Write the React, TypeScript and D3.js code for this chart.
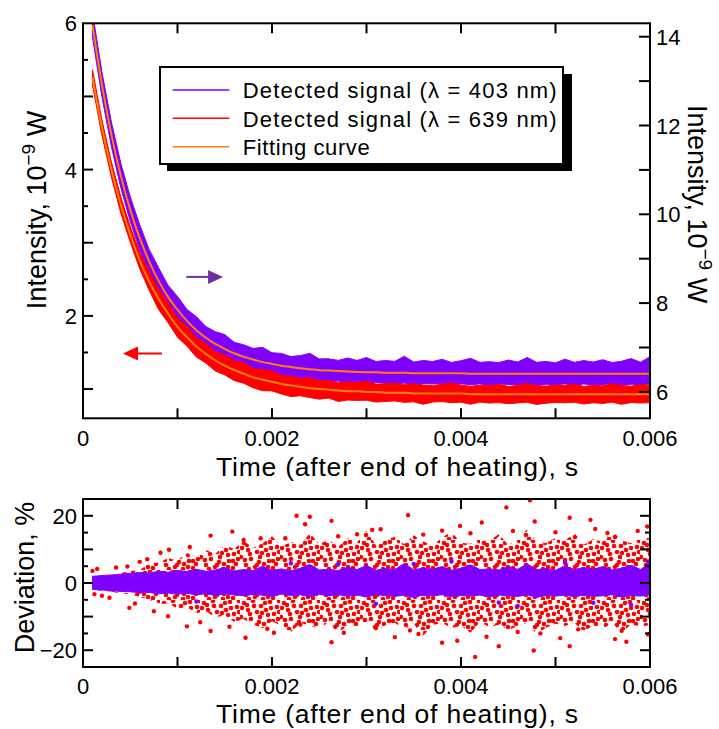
import React from "react";
import * as d3 from "d3";

// ---------- data ----------
const timeS = [
  0.0001, 0.0002, 0.0003, 0.0004, 0.0005, 0.0006, 0.0007, 0.0008, 0.0009, 0.001,
  0.0011, 0.0012, 0.0013, 0.0014, 0.0015, 0.0016, 0.0017, 0.0018, 0.0019, 0.002,
  0.0021, 0.0022, 0.0023, 0.0024, 0.0025, 0.0026, 0.0027, 0.0028, 0.0029, 0.003,
  0.0031, 0.0032, 0.0033, 0.0034, 0.0035, 0.0036, 0.0037, 0.0038, 0.0039, 0.004,
  0.0041, 0.0042, 0.0043, 0.0044, 0.0045, 0.0046, 0.0047, 0.0048, 0.0049, 0.005,
  0.0051, 0.0052, 0.0053, 0.0054, 0.0055, 0.0056, 0.0057, 0.0058, 0.0059, 0.006,
];
// fitting curve, 403 nm (right axis, 1e-9 W)
const fit403 = [
  14.27, 12.92, 11.8, 10.87, 10.1, 9.47, 8.94, 8.5, 8.14, 7.85,
  7.6, 7.39, 7.22, 7.08, 6.97, 6.87, 6.79, 6.73, 6.67, 6.63,
  6.59, 6.56, 6.53, 6.51, 6.49, 6.48, 6.47, 6.46, 6.45, 6.44,
  6.44, 6.43, 6.43, 6.43, 6.42, 6.42, 6.42, 6.42, 6.42, 6.42,
  6.41, 6.41, 6.41, 6.41, 6.41, 6.41, 6.41, 6.41, 6.41, 6.41,
  6.41, 6.41, 6.41, 6.41, 6.41, 6.41, 6.41, 6.41, 6.41, 6.41,
];
// fitting curve, 639 nm (left axis, 1e-9 W)
const fit639 = [
  5.26, 4.58, 4.0, 3.52, 3.11, 2.76, 2.47, 2.23, 2.03, 1.85,
  1.71, 1.58, 1.48, 1.39, 1.32, 1.26, 1.21, 1.16, 1.13, 1.1,
  1.07, 1.05, 1.03, 1.01, 1.0, 0.99, 0.98, 0.97, 0.97, 0.96,
  0.96, 0.95, 0.95, 0.95, 0.94, 0.94, 0.94, 0.94, 0.94, 0.94,
  0.93, 0.93, 0.93, 0.93, 0.93, 0.93, 0.93, 0.93, 0.93, 0.93,
  0.93, 0.93, 0.93, 0.93, 0.93, 0.93, 0.93, 0.93, 0.93, 0.93,
];
// noise envelope of the detected signals, % above / below the fit
const up403 = [
  2.0, 2.2, 2.4, 2.6, 2.9, 3.1, 3.0, 3.5, 3.2, 3.8, 3.4, 4.1, 3.5, 3.9, 4.6, 3.6, 4.0, 3.7, 5.0, 3.8,
  4.2, 3.6, 4.4, 5.5, 3.9, 4.1, 3.7, 4.7, 4.0, 5.2, 3.8, 4.3, 4.0, 5.8, 3.9, 4.5, 4.1, 4.9, 3.8, 4.4,
  5.4, 4.0, 4.2, 3.9, 4.8, 4.1, 5.7, 4.0, 4.3, 3.8, 5.1, 4.0, 4.6, 4.1, 4.9, 3.9, 4.4, 5.3, 4.0, 6.0,
];
const lo403 = [
  1.9, 2.1, 2.3, 2.5, 2.6, 2.9, 2.8, 3.2, 3.0, 3.3, 3.1, 3.5, 3.2, 3.7, 3.3, 3.5, 3.8, 3.4, 3.6, 4.0,
  3.3, 3.7, 3.5, 4.1, 3.4, 3.8, 3.5, 3.9, 3.6, 4.2, 3.5, 3.7, 4.0, 3.6, 4.3, 3.6, 3.8, 3.5, 4.1, 3.7,
  3.9, 3.6, 4.2, 3.6, 3.8, 4.0, 3.5, 4.3, 3.7, 3.9, 3.6, 4.1, 3.6, 4.0, 3.8, 3.5, 4.2, 3.7, 3.9, 3.6,
];
const up639 = [
  2.0, 2.2, 2.6, 3.0, 3.6, 3.9, 5.8, 6.1, 7.4, 6.8, 8.9, 7.6, 9.8, 8.7, 11.2, 10.1, 12.6, 10.4, 11.8, 13.9,
  10.9, 12.2, 11.4, 14.8, 11.6, 12.9, 10.8, 13.3, 12.1, 15.6, 11.2, 12.7, 13.8, 11.5, 14.2, 12.4, 11.1, 13.6, 15.2, 12.0,
  11.7, 13.1, 12.5, 14.6, 11.3, 12.8, 16.1, 12.2, 11.9, 13.4, 12.6, 14.9, 11.4, 13.0, 12.3, 15.4, 12.7, 11.8, 14.1, 13.2,
];
const lo639 = [
  1.9, 2.4, 2.5, 3.2, 3.3, 4.2, 4.9, 6.4, 6.0, 7.7, 7.2, 9.0, 8.4, 10.3, 9.6, 11.5, 10.8, 12.3, 13.5, 11.4,
  12.8, 14.6, 11.9, 12.6, 13.8, 11.5, 15.2, 12.4, 12.9, 11.7, 14.3, 12.6, 11.8, 13.9, 12.2, 15.8, 12.5, 11.9, 13.4, 12.7,
  14.8, 11.6, 13.1, 12.4, 14.0, 12.9, 11.8, 15.1, 13.3, 12.1, 12.8, 11.9, 14.4, 12.6, 13.7, 11.8, 14.9, 12.3, 13.0, 12.5,
];
// scattered deviation points outside the dense band (%)
const redOutT = [
  0.00047, 0.00068, 0.00091, 0.00113, 0.00135, 0.00158, 0.00188, 0.00214, 0.00226, 0.0024,
  0.00235, 0.00263, 0.00049, 0.0009, 0.00124, 0.00135, 0.00172, 0.00202, 0.00195, 0.00263,
  0.00276, 0.0023, 0.00473, 0.00448, 0.00344, 0.00422, 0.00399, 0.00515, 0.00537, 0.00478,
  0.00306, 0.00315, 0.0038, 0.00597, 0.00587, 0.00542, 0.00455, 0.00415, 0.00477, 0.00515,
  0.0038, 0.00396, 0.0033, 0.00427, 0.0044, 0.00575, 0.00563, 0.00598, 0.00484, 0.00524,
  0.00346, 0.0029, 0.00355, 0.00505, 0.00555, 0.0046, 0.0017, 0.0011, 0.00155, 0.0041,
  0.0036, 0.005, 0.0027, 0.0031, 0.0057, 0.00075, 0.00082, 0.0006, 0.00055, 0.00035,
  0.0002, 0.00015, 0.00028, 0.0001, 0.00012,
];
const redOutD = [
  4.9, 7.1, 9.9, 10.7, 14.1, 15.3, 13.3, 13.3, 20.0, 19.7,
  17.5, 18.5, -7.4, -9.9, -11.7, -14.3, -16.3, -14.8, -13.6, -17.6,
  -14.8, -12.4, 24.6, 22.5, 20.2, 18.0, 17.0, 19.4, 18.8, 18.3,
  15.8, 16.0, 15.6, 16.8, 15.5, 16.1, 15.5, -22.0, -20.1, -18.8,
  -17.8, -17.2, -16.1, -16.0, -18.8, -17.5, -16.7, -15.3, -15.0, -13.8,
  -14.1, 14.5, -15.2, -16.4, 14.9, -14.6, 12.8, -12.9, -13.0, 14.8,
  14.4, 15.1, 13.9, -13.4, -14.2, -8.4, 9.0, 6.3, -6.1, 4.6,
  -3.8, 4.2, -4.4, 3.6, -3.3,
];
const purOutT = [0.0012, 0.0022, 0.0031, 0.0039, 0.0044, 0.0051, 0.0058, 0.00598, 0.0046, 0.0027, 0.0035, 0.0054];
const purOutD = [-5.5, 5.9, -6.2, 6.4, -5.8, 6.1, -6.5, 6.4, -6.8, 5.6, 5.7, -5.9];

const xTickVals = [0, 0.002, 0.004, 0.006];
const xTickLabels = ["0", "0.002", "0.004", "0.006"];
const xAllTicks = [0.001, 0.002, 0.003, 0.004, 0.005];
const leftTickVals = [2, 4, 6];
const leftAllTicks = [1, 1.5, 2, 2.5, 3, 3.5, 4, 4.5, 5, 5.5];
const rightTickVals = [6, 8, 10, 12, 14];
const rightAllTicks = [6, 7, 8, 9, 10, 11, 12, 13, 14];
const devTickVals = [20, 0, -20];
const devTickLabels = ["20", "0", "\u221220"];
const devAllTicks = [-20, -15, -10, -5, 0, 5, 10, 15, 20];
const legendLabels = [
  "Detected signal (\u03bb = 403 nm)",
  "Detected signal (\u03bb = 639 nm)",
  "Fitting curve",
];

// ---------- styling / layout ----------
const W = 719;
const H = 729;
const L = 83;
const R = 650;
const T1 = 23.3;
const B1 = 418.3;
const T2 = 499;
const B2 = 667;
const FONT = "'Liberation Sans', Arial, Helvetica, sans-serif";
const PURPLE = "#8000ff";
const RED = "#ff0000";
const ORANGE = "#ff8000";
const ARROW_PURPLE = "#7030a0";
const SPECKLES = [
  [4, 3], [13, 1], [21, 6], [30, 2], [37, 7], [8, 10], [17, 12], [26, 10], [34, 14], [1, 17],
  [11, 19], [20, 17], [29, 21], [38, 19], [6, 25], [15, 27], [24, 24], [33, 28], [2, 8], [9, 29],
  [19, 22], [28, 15], [36, 24], [14, 6], [23, 29], [31, 8], [5, 20], [39, 1], [25, 3], [10, 14],
  [33, 21], [17, 25], [28, 27], [39, 12], [22, 13], [7, 5],
];

export default function App() {
  const x = d3.scaleLinear().domain([0, 0.006]).range([L, R]);
  const yL = d3.scaleLinear().domain([0.6, 6]).range([B1, T1]);
  const yR = d3.scaleLinear().domain([5.405, 14.302]).range([B1, T1]);
  const yD = d3.scaleLinear().domain([-25, 25]).range([B2, T2]);

  const idx = timeS.map((_, i) => i);

  const band403 = d3
    .area<number>()
    .x((i) => x(timeS[i]))
    .y0((i) => yR(fit403[i] * (1 - lo403[i] / 100)))
    .y1((i) => yR(fit403[i] * (1 + up403[i] / 100)));
  const band639 = d3
    .area<number>()
    .x((i) => x(timeS[i]))
    .y0((i) => yL(fit639[i] * (1 - lo639[i] / 100)))
    .y1((i) => yL(fit639[i] * (1 + up639[i] / 100)));
  const fitLine403 = d3
    .line<number>()
    .x((i) => x(timeS[i]))
    .y((i) => yR(fit403[i]))
    .curve(d3.curveMonotoneX);
  const fitLine639 = d3
    .line<number>()
    .x((i) => x(timeS[i]))
    .y((i) => yL(fit639[i]))
    .curve(d3.curveMonotoneX);

  const devBand403 = d3
    .area<number>()
    .x((i) => x(timeS[i]))
    .y0((i) => yD(-lo403[i]))
    .y1((i) => yD(up403[i]));
  const devBand639 = d3
    .area<number>()
    .x((i) => x(timeS[i]))
    .y0((i) => yD(-lo639[i]))
    .y1((i) => yD(up639[i]));

  // arrows (data units)
  const pArrowY = yR(8.59);
  const pTail = x(0.001093);
  const pTip = x(0.001482);
  const rArrowY = yL(1.486);
  const rTip = x(0.000423);
  const rTail = x(0.000835);

  const tickText = { fontFamily: FONT, fontSize: 22, fill: "#000" } as const;
  const titleText = { fontFamily: FONT, fontSize: 27, fill: "#000" } as const;
  const xTitleText = { fontFamily: FONT, fontSize: 26.5, fill: "#000" } as const;

  return (
    <svg
      width={W}
      height={H}
      viewBox={`0 0 ${W} ${H}`}
      style={{ position: "absolute", left: 0, top: 0, background: "#fff" }}
    >
      <defs>
        <clipPath id="clipTop">
          <rect x={L} y={T1} width={R - L} height={B1 - T1} />
        </clipPath>
        <clipPath id="clipBot">
          <rect x={L} y={T2} width={R - L} height={B2 - T2} />
        </clipPath>
        <pattern id="speckle" width={40} height={30} patternUnits="userSpaceOnUse">
          {SPECKLES.map(([cx, cy], k) => (
            <circle key={k} cx={cx} cy={cy} r={2.3} fill={RED} />
          ))}
        </pattern>
      </defs>
      <rect x={0} y={0} width={W} height={H} fill="#fff" />

      {/* ================= TOP PANEL ================= */}
      <g clipPath="url(#clipTop)">
        <path d={band403(idx) || ""} fill={PURPLE} stroke={PURPLE} strokeWidth={1} />
        <path d={band639(idx) || ""} fill={RED} stroke={RED} strokeWidth={1} />
        <path d={fitLine403(idx) || ""} fill="none" stroke={ORANGE} strokeWidth={2} />
        <path d={fitLine639(idx) || ""} fill="none" stroke={ORANGE} strokeWidth={2} />
      </g>

      {/* arrows */}
      <line x1={pTail} x2={pTip - 14} y1={pArrowY} y2={pArrowY} stroke={ARROW_PURPLE} strokeWidth={2} />
      <polygon
        points={`${pTip - 15},${pArrowY - 7} ${pTip},${pArrowY} ${pTip - 15},${pArrowY + 7}`}
        fill={ARROW_PURPLE}
      />
      <line x1={rTip + 14} x2={rTail} y1={rArrowY} y2={rArrowY} stroke={RED} strokeWidth={2} />
      <polygon
        points={`${rTip + 15},${rArrowY - 7} ${rTip},${rArrowY} ${rTip + 15},${rArrowY + 7}`}
        fill={RED}
      />

      {/* frame & ticks */}
      <rect x={L} y={T1} width={R - L} height={B1 - T1} fill="none" stroke="#000" strokeWidth={2} />
      {xAllTicks.map((v) => (
        <g key={"xt" + v}>
          <line x1={x(v)} x2={x(v)} y1={B1} y2={B1 - 10} stroke="#000" strokeWidth={2} />
          <line x1={x(v)} x2={x(v)} y1={T1} y2={T1 + 10} stroke="#000" strokeWidth={2} />
        </g>
      ))}
      {leftAllTicks.map((v) => (
        <line
          key={"lt" + v}
          x1={L}
          x2={L + (Number.isInteger(v) ? 10 : 5)}
          y1={yL(v)}
          y2={yL(v)}
          stroke="#000"
          strokeWidth={2}
        />
      ))}
      {rightAllTicks.map((v) => (
        <line key={"rt" + v} x1={R - 11} x2={R} y1={yR(v)} y2={yR(v)} stroke="#000" strokeWidth={2} />
      ))}
      {leftTickVals.map((v) => (
        <text key={"ll" + v} x={77} y={yL(v) + 8} textAnchor="end" style={tickText}>
          {v}
        </text>
      ))}
      {rightTickVals.map((v) => (
        <text key={"rl" + v} x={656} y={yR(v) + 8} textAnchor="start" style={tickText}>
          {v}
        </text>
      ))}
      {xTickVals.map((v, i) => (
        <text key={"xl" + v} x={x(v)} y={446} textAnchor="middle" style={tickText}>
          {xTickLabels[i]}
        </text>
      ))}
      <text x={397} y={476} textAnchor="middle" style={xTitleText} textLength={362} lengthAdjust="spacing">
        Time (after end of heating), s
      </text>
      <text transform="translate(46,210) rotate(-90)" textAnchor="middle" style={titleText}>
        Intensity, 10
        <tspan dy={-11} fontSize={19}>{"\u22129"}</tspan>
        <tspan dy={11}> W</tspan>
      </text>
      <text transform="translate(688,204) rotate(90)" textAnchor="middle" style={titleText}>
        Intensity, 10
        <tspan dy={-11} fontSize={19}>{"\u22129"}</tspan>
        <tspan dy={11}> W</tspan>
      </text>

      {/* legend */}
      <rect x={167} y={74} width={405} height={97} fill="#000" />
      <rect x={160} y={67} width={403} height={97} fill="#fff" stroke="#000" strokeWidth={2} />
      {legendLabels.map((lab, i) => {
        const cy = 90 + i * 28.35;
        const col = [PURPLE, RED, ORANGE][i];
        return (
          <g key={lab}>
            <line x1={172.7} x2={229.3} y1={cy} y2={cy} stroke={col} strokeWidth={1.5} />
            <text
              x={242.7}
              y={cy + 8.3}
              style={{ fontFamily: FONT, fontSize: 22, fill: "#000" }}
              textLength={i < 2 ? 314 : 127}
              lengthAdjust="spacing"
            >
              {lab}
            </text>
          </g>
        );
      })}

      {/* ================= BOTTOM PANEL ================= */}
      <g clipPath="url(#clipBot)">
        <path d={devBand639(idx) || ""} fill="url(#speckle)" />
        {redOutT.map((t, i) => (
          <circle key={"ro" + i} cx={x(t)} cy={yD(redOutD[i])} r={2.2} fill={RED} />
        ))}
        <path d={devBand403(idx) || ""} fill={PURPLE} stroke={PURPLE} strokeWidth={1} />
        {purOutT.map((t, i) => (
          <circle key={"po" + i} cx={x(t)} cy={yD(purOutD[i])} r={2.2} fill={PURPLE} />
        ))}
      </g>
      <rect x={L} y={T2} width={R - L} height={B2 - T2} fill="none" stroke="#000" strokeWidth={2} />
      {xAllTicks.map((v) => (
        <g key={"bxt" + v}>
          <line x1={x(v)} x2={x(v)} y1={B2} y2={B2 - 10} stroke="#000" strokeWidth={2} />
          <line x1={x(v)} x2={x(v)} y1={T2} y2={T2 + 10} stroke="#000" strokeWidth={2} />
        </g>
      ))}
      {devAllTicks.map((v) => {
        const len = v % 10 === 0 ? 10 : 5;
        return (
          <g key={"dt" + v}>
            <line x1={L} x2={L + len} y1={yD(v)} y2={yD(v)} stroke="#000" strokeWidth={2} />
            <line x1={R - len} x2={R} y1={yD(v)} y2={yD(v)} stroke="#000" strokeWidth={2} />
          </g>
        );
      })}
      {devTickVals.map((v, i) => (
        <text key={"dl" + v} x={77} y={yD(v) + 8} textAnchor="end" style={tickText}>
          {devTickLabels[i]}
        </text>
      ))}
      {xTickVals.map((v, i) => (
        <text key={"bxl" + v} x={x(v)} y={694} textAnchor="middle" style={tickText}>
          {xTickLabels[i]}
        </text>
      ))}
      <text x={397} y={723} textAnchor="middle" style={xTitleText} textLength={362} lengthAdjust="spacing">
        Time (after end of heating), s
      </text>
      <text transform="translate(34,577.5) rotate(-90)" textAnchor="middle" style={titleText}>
        Deviation, %
      </text>
    </svg>
  );
}
